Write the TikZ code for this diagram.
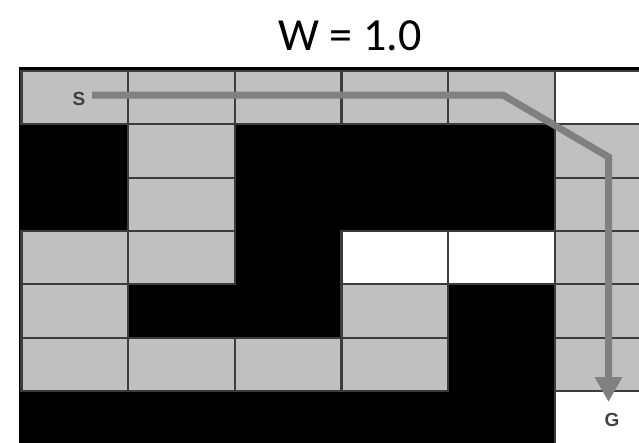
\documentclass[tikz,border=0pt]{standalone}
\usepackage{fontspec}
\setmainfont{Carlito}
\newfontfamily\cellfont{Liberation Sans}
\usetikzlibrary{arrows.meta}
\definecolor{cellgray}{HTML}{C0C0C0}
\definecolor{gridline}{HTML}{3C3C3C}
\definecolor{pathgray}{HTML}{808080}
\definecolor{lettergray}{HTML}{404040}
\tikzset{
  graycell/.style={fill=cellgray, draw=gridline, line width=2.2pt},
  whitecell/.style={fill=white, draw=gridline, line width=2.2pt},
  letter/.style={font=\cellfont\bfseries\fontsize{19}{19}\selectfont, text=lettergray, inner sep=0pt},
  route/.style={draw=pathgray, line width=7pt, -{Triangle[width=26pt,length=25pt]}},
  title/.style={font=\fontsize{46}{46}\selectfont, inner sep=0pt, anchor=base}
}
\begin{document}
\begin{tikzpicture}[x=1pt,y=-1pt]
\useasboundingbox (0,0) rectangle (639,442);
% background of grid (black)
\fill[black] (19,66.5) rectangle (700,460);
% cells: columns 0..5, rows 0..6
\def\cw{106.65}
\def\ch{53.33}
\def\xo{21.5}
\def\yo{71}
\foreach \c/\r in {0/0,1/0,2/0,3/0,4/0,
                   1/1,5/1,
                   1/2,5/2,
                   0/3,1/3,5/3,
                   0/4,3/4,5/4,
                   0/5,1/5,2/5,3/5,5/5}{
  \path[graycell] (\xo+\c*\cw,\yo+\r*\ch) rectangle (\xo+\c*\cw+\cw,\yo+\r*\ch+\ch);
}
\foreach \c/\r in {5/0,3/3,4/3,5/6}{
  \path[whitecell] (\xo+\c*\cw,\yo+\r*\ch) rectangle (\xo+\c*\cw+\cw,\yo+\r*\ch+\ch);
}
% labels
\node[letter] (S) at (79,99) {S};
\node[letter] (G) at (612,420) {G};
\node[title] (T) at (350,50) {W = 1.0};
% route
\coordinate (p0) at (92,95);
\coordinate (p1) at (503,95);
\coordinate (p2) at (608.5,157);
\coordinate (p3) at (608.5,402);
\draw[route] (p0) -- (p1) -- (p2) -- (p3);
\end{tikzpicture}
\end{document}
